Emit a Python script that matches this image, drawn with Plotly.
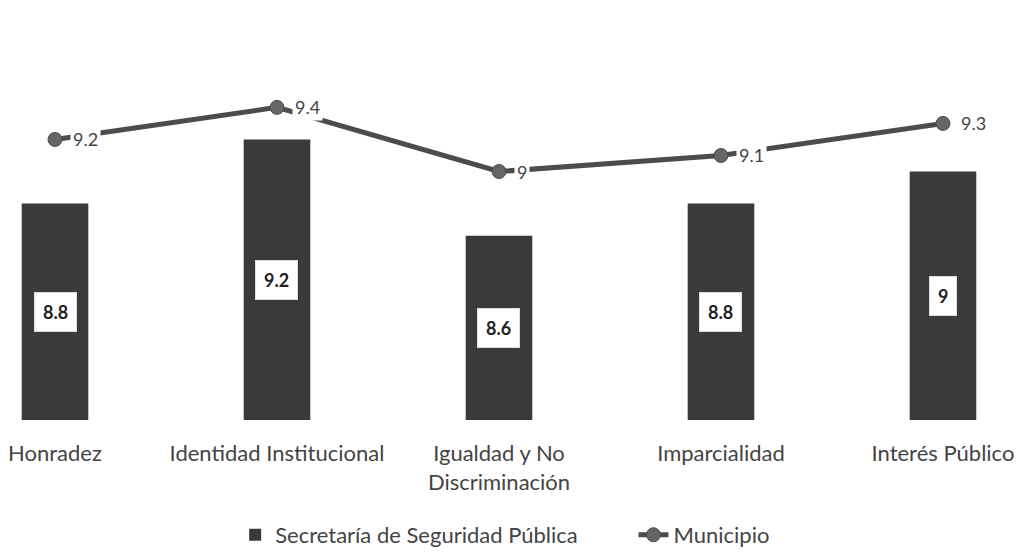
import plotly.graph_objects as go

categories = ["Honradez", "Identidad Institucional", "Igualdad y No<br>Discriminación",
              "Imparcialidad", "Interés Público"]
secretaria = [8.8, 9.2, 8.6, 8.8, 9.0]
municipio = [9.2, 9.4, 9.0, 9.1, 9.3]
y_min, y_max = 7.45, 10.02

FONT = "Lato, sans-serif"

fig = go.Figure()
fig.add_trace(go.Bar(
    x=categories, y=[v - y_min for v in secretaria], base=y_min,
    name="Secretaría de Seguridad Pública" + "\u00a0" * 9,
    marker=dict(color="#3a3a3a", line=dict(width=0)),
    width=0.30, hoverinfo="skip",
))
fig.add_trace(go.Scatter(
    x=categories, y=municipio, name="Municipio",
    mode="lines+markers",
    line=dict(color="#4c4c4c", width=5),
    marker=dict(color="#666666", size=14, line=dict(color="#4c4c4c", width=1)),
))

for c, v in zip(categories, secretaria):
    fig.add_annotation(
        x=c, y=(v + y_min) / 2, text="<b>%g</b>" % v, showarrow=False,
        bgcolor="white", bordercolor="#ddd", borderwidth=1, borderpad=8,
        font=dict(family=FONT, size=18, color="#222"),
    )

for c, v in zip(categories, municipio):
    fig.add_annotation(
        x=c, y=v, text="%g" % v, showarrow=False, xanchor="left", xshift=15,
        bgcolor="white", borderpad=2,
        font=dict(family=FONT, size=18, color="#444"),
    )

fig.update_layout(
    width=1026, height=552,
    margin=dict(l=0, r=0, t=0, b=140, autoexpand=False),
    plot_bgcolor="white", paper_bgcolor="white",
    font=dict(family=FONT, size=22, color="#444"),
    showlegend=True,
    legend=dict(orientation="h", x=0.2214, xanchor="left", y=-0.279, yanchor="middle",
                font=dict(size=22, color="#444"), traceorder="normal"),
    xaxis=dict(range=[-0.2117, 4.41], showgrid=False, zeroline=False, showline=False,
               ticks="", tickfont=dict(size=22, color="#444"), automargin=False,
               ticklabelstandoff=18),
    yaxis=dict(range=[y_min, y_max], visible=False),
)

fig.write_html("out.html")
